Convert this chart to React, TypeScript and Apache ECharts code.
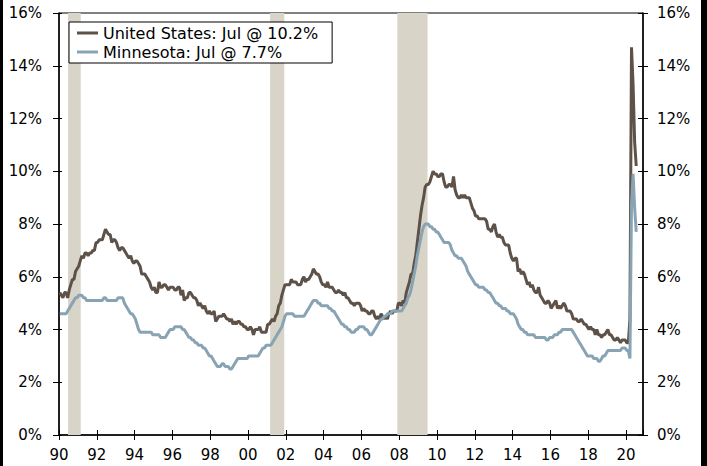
import React, { useEffect, useRef } from "react";
import * as echarts from "echarts";

// Monthly unemployment rate (%), January 1990 onward
const us1990s = [
  5.4, 5.3, 5.2, 5.4, 5.4, 5.2, 5.5, 5.7, 5.9, 5.9, 6.2, 6.3,
  6.4, 6.6, 6.8, 6.7, 6.9, 6.9, 6.8, 6.9, 6.9, 7.0, 7.0, 7.3,
  7.3, 7.4, 7.4, 7.4, 7.6, 7.8, 7.7, 7.6, 7.6, 7.3, 7.4, 7.4,
  7.3, 7.1, 7.0, 7.1, 7.1, 7.0, 6.9, 6.8, 6.7, 6.8, 6.6, 6.5,
  6.6, 6.6, 6.5, 6.4, 6.1, 6.1, 6.1, 6.0, 5.9, 5.8, 5.6, 5.5,
  5.6, 5.4, 5.4, 5.8, 5.6, 5.6, 5.7, 5.7, 5.6, 5.5, 5.6, 5.6,
  5.6, 5.5, 5.5, 5.6, 5.6, 5.3, 5.5, 5.1, 5.2, 5.2, 5.4, 5.4,
  5.3, 5.2, 5.2, 5.1, 4.9, 5.0, 4.9, 4.8, 4.9, 4.7, 4.6, 4.7,
  4.6, 4.6, 4.7, 4.3, 4.4, 4.5, 4.5, 4.5, 4.6, 4.5, 4.4, 4.4,
  4.3, 4.4, 4.2, 4.3, 4.2, 4.3, 4.3, 4.2, 4.2, 4.1, 4.1, 4.0,
];
const us2000s = [
  4.0, 4.1, 4.0, 3.8, 4.0, 4.0, 4.0, 4.1, 3.9, 3.9, 3.9, 3.9,
  4.2, 4.2, 4.3, 4.4, 4.3, 4.5, 4.6, 4.9, 5.0, 5.3, 5.5, 5.7,
  5.7, 5.7, 5.7, 5.9, 5.8, 5.8, 5.8, 5.7, 5.7, 5.7, 5.9, 6.0,
  5.8, 5.9, 5.9, 6.0, 6.1, 6.3, 6.2, 6.1, 6.1, 6.0, 5.8, 5.7,
  5.7, 5.6, 5.8, 5.6, 5.6, 5.6, 5.5, 5.4, 5.4, 5.5, 5.4, 5.4,
  5.3, 5.4, 5.2, 5.2, 5.1, 5.0, 5.0, 4.9, 5.0, 5.0, 5.0, 4.9,
  4.7, 4.8, 4.7, 4.7, 4.6, 4.6, 4.7, 4.7, 4.5, 4.4, 4.5, 4.4,
  4.6, 4.5, 4.4, 4.5, 4.4, 4.6, 4.7, 4.6, 4.7, 4.7, 4.7, 5.0,
  5.0, 4.9, 5.1, 5.0, 5.4, 5.6, 5.8, 6.1, 6.1, 6.5, 6.8, 7.3,
  7.8, 8.3, 8.7, 9.0, 9.4, 9.5, 9.5, 9.6, 9.8, 10.0, 9.9, 9.9,
];
const us2010s = [
  9.8, 9.8, 9.9, 9.9, 9.6, 9.4, 9.4, 9.5, 9.5, 9.4, 9.8, 9.3,
  9.1, 9.0, 9.0, 9.1, 9.0, 9.1, 9.0, 9.0, 9.0, 8.8, 8.6, 8.5,
  8.3, 8.3, 8.2, 8.2, 8.2, 8.2, 8.2, 8.1, 7.8, 7.8, 7.7, 7.9,
  8.0, 7.7, 7.5, 7.6, 7.5, 7.5, 7.3, 7.2, 7.2, 7.2, 6.9, 6.7,
  6.6, 6.7, 6.7, 6.2, 6.3, 6.1, 6.2, 6.1, 5.9, 5.7, 5.8, 5.6,
  5.7, 5.5, 5.4, 5.4, 5.6, 5.3, 5.2, 5.1, 5.0, 5.0, 5.1, 5.0,
  4.8, 4.9, 5.0, 5.1, 4.8, 4.9, 4.8, 4.9, 5.0, 4.9, 4.7, 4.7,
  4.7, 4.6, 4.4, 4.4, 4.4, 4.3, 4.3, 4.4, 4.3, 4.2, 4.2, 4.1,
  4.0, 4.1, 4.0, 4.0, 3.8, 4.0, 3.8, 3.8, 3.7, 3.8, 3.8, 3.9,
  4.0, 3.8, 3.8, 3.7, 3.6, 3.6, 3.7, 3.6, 3.5, 3.6, 3.6, 3.6,
];
const us2020 = [3.5, 3.5, 4.4, 14.7, 13.3, 11.1, 10.2];

const mn1990s = [
  4.6, 4.6, 4.6, 4.6, 4.6, 4.7, 4.8, 4.9, 5.0, 5.1, 5.2, 5.2,
  5.3, 5.3, 5.3, 5.2, 5.2, 5.1, 5.1, 5.1, 5.1, 5.1, 5.1, 5.1,
  5.1, 5.1, 5.1, 5.1, 5.2, 5.2, 5.1, 5.1, 5.1, 5.1, 5.1, 5.1,
  5.1, 5.2, 5.2, 5.2, 5.2, 5.0, 4.9, 4.8, 4.7, 4.6, 4.6, 4.5,
  4.4, 4.2, 4.0, 3.9, 3.9, 3.9, 3.9, 3.9, 3.9, 3.9, 3.9, 3.8,
  3.8, 3.8, 3.8, 3.8, 3.7, 3.7, 3.7, 3.7, 3.8, 3.9, 4.0, 4.0,
  4.0, 4.1, 4.1, 4.1, 4.1, 4.1, 4.0, 4.0, 3.9, 3.8, 3.7, 3.7,
  3.6, 3.6, 3.5, 3.5, 3.4, 3.4, 3.4, 3.3, 3.3, 3.2, 3.1, 3.0,
  3.0, 2.9, 2.8, 2.7, 2.6, 2.6, 2.6, 2.7, 2.7, 2.6, 2.6, 2.6,
  2.5, 2.5, 2.6, 2.7, 2.8, 2.9, 2.9, 2.9, 2.9, 2.9, 2.9, 2.9,
];
const mn2000s = [
  3.0, 3.0, 3.0, 3.0, 3.0, 3.0, 3.0, 3.1, 3.2, 3.3, 3.3, 3.4,
  3.4, 3.4, 3.4, 3.5, 3.6, 3.7, 3.8, 3.9, 4.0, 4.1, 4.3, 4.5,
  4.6, 4.6, 4.6, 4.6, 4.6, 4.5, 4.5, 4.5, 4.5, 4.5, 4.5, 4.5,
  4.6, 4.7, 4.8, 4.9, 5.0, 5.1, 5.1, 5.1, 5.0, 5.0, 4.9, 4.9,
  4.9, 4.9, 4.9, 4.8, 4.8, 4.7, 4.7, 4.6, 4.5, 4.4, 4.3, 4.2,
  4.2, 4.1, 4.1, 4.0, 4.0, 3.9, 3.9, 3.9, 4.0, 4.0, 4.1, 4.1,
  4.1, 4.1, 4.0, 4.0, 3.9, 3.8, 3.8, 3.9, 4.0, 4.1, 4.2, 4.3,
  4.4, 4.4, 4.5, 4.5, 4.6, 4.6, 4.6, 4.7, 4.7, 4.7, 4.7, 4.7,
  4.7, 4.7, 4.8, 4.9, 5.0, 5.2, 5.3, 5.5, 5.8, 6.1, 6.4, 6.8,
  7.1, 7.4, 7.7, 7.9, 8.0, 8.0, 8.0, 7.9, 7.9, 7.8, 7.8, 7.7,
];
const mn2010s = [
  7.7, 7.6, 7.5, 7.4, 7.3, 7.3, 7.3, 7.3, 7.2, 7.0, 6.9, 6.8,
  6.8, 6.7, 6.7, 6.7, 6.6, 6.5, 6.4, 6.2, 6.1, 6.0, 5.9, 5.8,
  5.7, 5.7, 5.6, 5.6, 5.6, 5.6, 5.5, 5.5, 5.4, 5.4, 5.3, 5.2,
  5.1, 5.0, 5.0, 4.9, 4.9, 4.8, 4.8, 4.8, 4.7, 4.7, 4.6, 4.6,
  4.6, 4.5, 4.4, 4.2, 4.1, 4.0, 4.0, 3.9, 3.9, 3.8, 3.8, 3.8,
  3.8, 3.8, 3.7, 3.7, 3.7, 3.7, 3.7, 3.7, 3.7, 3.6, 3.6, 3.7,
  3.7, 3.7, 3.8, 3.8, 3.8, 3.9, 3.9, 4.0, 4.0, 4.0, 4.0, 4.0,
  4.0, 4.0, 3.9, 3.8, 3.7, 3.6, 3.5, 3.4, 3.3, 3.2, 3.1, 3.0,
  3.0, 3.0, 3.0, 2.9, 2.9, 2.9, 2.8, 2.8, 2.9, 3.0, 3.0, 3.1,
  3.2, 3.2, 3.2, 3.2, 3.2, 3.2, 3.2, 3.2, 3.2, 3.3, 3.3, 3.3,
];
const mn2020 = [3.2, 3.2, 2.9, 8.7, 9.9, 8.6, 7.7];

// Recession periods (decimal years)
const recessions = [
  [1990.48, 1991.15],
  [2001.17, 2001.92],
  [2007.9, 2009.5],
];

const startYear = 1990;
const usValues = [...us1990s, ...us2000s, ...us2010s, ...us2020];
const mnValues = [...mn1990s, ...mn2000s, ...mn2010s, ...mn2020];

const usName = "United States: Jul @ 10.2%";
const mnName = "Minnesota: Jul @ 7.7%";

const toPoints = (vals: number[]) =>
  vals.map((v, i) => [startYear + (i + 0.5) / 12, v]);

const FONT = "DejaVu Sans";

export default function App() {
  const ref = useRef<HTMLDivElement>(null);

  useEffect(() => {
    document.body.style.margin = "0";
    if (!ref.current) return;
    const chart = echarts.init(ref.current, null, { renderer: "svg" });

    const xCommon = {
      type: "value" as const,
      min: 1990,
      max: 2020.9,
      interval: 2,
      splitLine: { show: false },
      position: "bottom" as const,
    };
    const yCommon = {
      type: "value" as const,
      min: 0,
      max: 16,
      interval: 2,
      splitLine: { show: false },
    };
    const lineStyleAxis = { color: "#000", width: 1.5 };
    const tickStyle = { color: "#000", width: 1 };
    const labelStyle = { color: "#000", fontSize: 15, fontFamily: FONT };

    const option: any = {
      animation: false,
      backgroundColor: "#fff",
      grid: {
        left: 59,
        right: 64,
        top: 13,
        bottom: 31,
        show: true,
        borderColor: "#000",
        borderWidth: 1,
        backgroundColor: "transparent",
      },
      legend: {
        orient: "vertical",
        left: 69,
        top: 22,
        data: [usName, mnName],
        icon: "rect",
        itemWidth: 21,
        itemHeight: 3,
        itemGap: 1,
        padding: [2, 14, 2, 8],
        borderColor: "#000",
        borderWidth: 1,
        backgroundColor: "#fff",
        textStyle: { color: "#000", fontSize: 16, fontFamily: FONT, lineHeight: 18 },
      },
      xAxis: [
        {
          ...xCommon,
          axisLine: { show: true, lineStyle: lineStyleAxis },
          axisTick: { show: true, length: 5, lineStyle: tickStyle },
          axisLabel: {
            ...labelStyle,
            margin: 12,
            showMaxLabel: false,
            formatter: (v: number) =>
              Math.abs(v - Math.round(v)) < 1e-6 && Math.round(v) % 2 === 0
                ? String(Math.round(v) % 100).padStart(2, "0")
                : "",
          },
        },
        {
          ...xCommon,
          axisLine: { show: false },
          axisTick: { show: true, inside: true, length: 5, lineStyle: tickStyle },
          axisLabel: { show: false },
        },
      ],
      yAxis: [
        {
          ...yCommon,
          position: "left",
          axisLine: { show: true, lineStyle: lineStyleAxis },
          axisTick: { show: true, length: 6, lineStyle: tickStyle },
          axisLabel: { ...labelStyle, margin: 17, formatter: "{value}%" },
        },
        {
          ...yCommon,
          position: "right",
          axisLine: { show: true, lineStyle: lineStyleAxis },
          axisTick: { show: true, length: 5, lineStyle: tickStyle },
          axisLabel: { ...labelStyle, margin: 14, formatter: "{value}%" },
        },
        {
          ...yCommon,
          position: "left",
          axisLine: { show: false },
          axisTick: { show: true, inside: true, length: 3, lineStyle: tickStyle },
          axisLabel: { show: false },
        },
        {
          ...yCommon,
          position: "right",
          axisLine: { show: false },
          axisTick: { show: true, inside: true, length: 5, lineStyle: tickStyle },
          axisLabel: { show: false },
        },
      ],
      series: [
        {
          name: "Recession",
          type: "line",
          data: [],
          z: 1,
          silent: true,
          markArea: {
            silent: true,
            itemStyle: { color: "#d8d4c8" },
            data: recessions.map(([a, b]) => [{ xAxis: a }, { xAxis: b }]),
          },
        },
        {
          name: usName,
          type: "line",
          color: "#5e5147",
          data: toPoints(usValues),
          showSymbol: false,
          z: 3,
          lineStyle: { width: 3, color: "#5e5147" },
        },
        {
          name: mnName,
          type: "line",
          color: "#88a4b4",
          data: toPoints(mnValues),
          showSymbol: false,
          z: 4,
          lineStyle: { width: 3, color: "#88a4b4" },
        },
      ],
      graphic: [
        { type: "rect", left: 0, top: 0, shape: { width: 3, height: 466 }, style: { fill: "#000" }, z: 100 },
        { type: "rect", left: 701, top: 0, shape: { width: 6, height: 466 }, style: { fill: "#000" }, z: 100 },
      ],
    };

    chart.setOption(option);
    return () => chart.dispose();
  }, []);

  return <div ref={ref} style={{ width: 707, height: 466 }} />;
}
